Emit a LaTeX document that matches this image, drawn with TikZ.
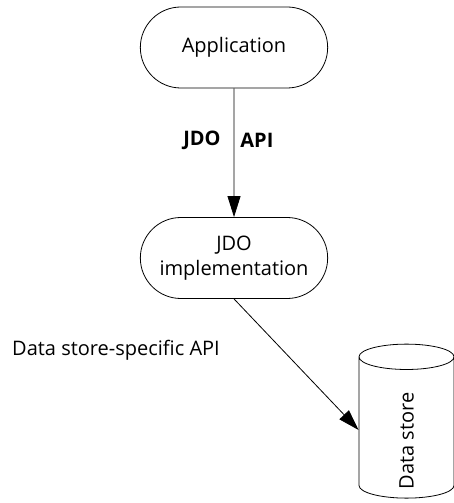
\documentclass[tikz,border=0pt]{standalone}
\usepackage{fontspec}
\setmainfont{Open Sans}
\usetikzlibrary{shapes.geometric, shapes.misc, arrows.meta}
\tikzstyle{arrow} = [line width=0.8pt,-{Triangle[length=21pt,width=13pt]}]
\tikzstyle{pill} = [draw, line width=0.8pt, rounded rectangle, minimum width=194pt, minimum height=81pt, align=center]
\tikzstyle{lbl} = [inner sep=0pt, font=\fontsize{20}{25}\selectfont\bfseries]

\begin{document}
\begin{tikzpicture}[x=1pt, y=1pt, font=\fontsize{20}{25}\selectfont]
            \useasboundingbox (0,0) rectangle (454,503);
            % Create the two layers and the store
            \node[pill] (app) at (234, 455.5) {Application};
            \node[pill] (impl) at (234, 245) {JDO\\implementation};
            \node[draw, line width=0.8pt, cylinder, rotate=90, aspect=1.2, inner xsep=0pt,
                  minimum height=154pt, minimum width=95pt] (store) at (406.5, 73) {Data store\hspace*{22pt}};
            \node[anchor=west, inner sep=0pt] (dsapi) at (12, 153) {Data store-specific API};

            % Draw arrows between the nodes
            \draw[arrow] (app) -- node[pos=0.4, lbl, anchor=east, xshift=-13pt] (jdo) {JDO}
                                  node[pos=0.4, lbl, anchor=west, xshift=6pt] (api) {API} (impl);
            \draw[arrow] (impl.south) -- (store.north);
        \end{tikzpicture}
\end{document}
